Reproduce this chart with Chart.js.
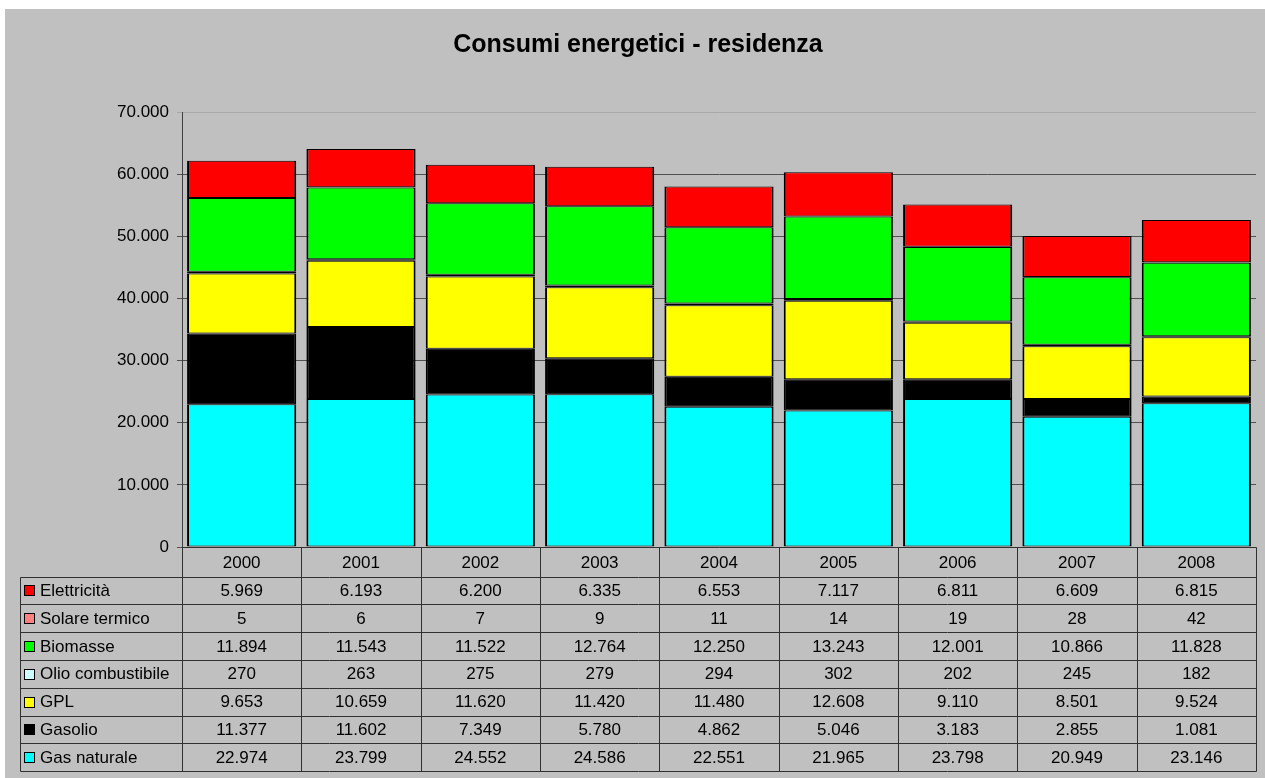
<!DOCTYPE html>
<html><head><meta charset="utf-8">
<script src="https://cdn.jsdelivr.net/npm/chart.js@4/dist/chart.umd.min.js"></script>
<style>html,body{margin:0;padding:0;background:#fff;}canvas{display:block;}</style>
</head><body>
<canvas id="c" width="1265" height="778"></canvas>
<script>
const years = ['2000','2001','2002','2003','2004','2005','2006','2007','2008'];
const gasNaturale = [22974,23799,24552,24586,22551,21965,23798,20949,23146];
const gasolio = [11377,11602,7349,5780,4862,5046,3183,2855,1081];
const gpl = [9653,10659,11620,11420,11480,12608,9110,8501,9524];
const olioCombustibile = [270,263,275,279,294,302,202,245,182];
const biomasse = [11894,11543,11522,12764,12250,13243,12001,10866,11828];
const solareTermico = [5,6,7,9,11,14,19,28,42];
const elettricita = [5969,6193,6200,6335,6553,7117,6811,6609,6815];
const yTicks = [0,10000,20000,30000,40000,50000,60000,70000];

const FONT = "'Liberation Sans', Arial, sans-serif";
const fmt = v => String(v).replace(/\B(?=(\d{3})+(?!\d))/g, '.');

const series = [
  {label:'Gas naturale', data:gasNaturale, color:'#00FFFF'},
  {label:'Gasolio', data:gasolio, color:'#000000'},
  {label:'GPL', data:gpl, color:'#FFFF00'},
  {label:'Olio combustibile', data:olioCombustibile, color:'#CCFFFF'},
  {label:'Biomasse', data:biomasse, color:'#00FF00'},
  {label:'Solare termico', data:solareTermico, color:'#FF8080'},
  {label:'Elettricità', data:elettricita, color:'#FF0000'}
];

const bgPlugin = {
  id:'bg',
  beforeDraw(chart){
    const ctx = chart.ctx, w = chart.width, h = chart.height;
    ctx.save();
    ctx.fillStyle = '#FFFFFF'; ctx.fillRect(0,0,w,h);
    ctx.fillStyle = '#C0C0C0'; ctx.fillRect(5,9,w-5,h-9);
    ctx.restore();
  }
};

const tablePlugin = {
  id:'dataTable',
  afterDraw(chart){
    const ctx = chart.ctx, area = chart.chartArea, xs = chart.scales.x;
    const n = years.length;
    const colW = (area.right - area.left) / n;
    const top = Math.round(area.bottom) + 0.5;
    const headerH = 29, rowH = 27.8, labelLeft = 20.5;
    const rows = chart.data.datasets.slice().reverse();
    const bottom = Math.round(top + headerH + rows.length * rowH) + 0.5;
    ctx.save();
    ctx.strokeStyle = '#303030';
    ctx.lineWidth = 1;
    const line = (x1,y1,x2,y2) => { ctx.beginPath(); ctx.moveTo(x1,y1); ctx.lineTo(x2,y2); ctx.stroke(); };
    const right = Math.round(area.right) + 0.5;
    line(Math.round(area.left)+0.5, top, right, top);
    for (let i = 0; i <= rows.length; i++) {
      const y = Math.round(top + headerH + i * rowH) + 0.5;
      line(labelLeft, y, right, y);
    }
    for (let j = 0; j <= n; j++) {
      const x = Math.round(area.left + j * colW) + 0.5;
      line(x, top, x, bottom);
    }
    line(labelLeft, Math.round(top + headerH) + 0.5, labelLeft, bottom);

    ctx.fillStyle = '#000';
    ctx.font = '17px ' + FONT;
    ctx.textBaseline = 'middle';
    ctx.textAlign = 'center';
    years.forEach((yr, j) => ctx.fillText(yr, xs.getPixelForValue(j), top + headerH / 2 + 1));
    rows.forEach((ds, i) => {
      const yc = top + headerH + i * rowH + rowH / 2 + 1;
      const ky = Math.round(yc - 6);
      ctx.fillStyle = ds.backgroundColor;
      ctx.fillRect(24, ky, 11, 11);
      ctx.strokeStyle = '#000';
      ctx.strokeRect(24.5, ky + 0.5, 10, 10);
      ctx.fillStyle = '#000';
      ctx.textAlign = 'left';
      ctx.fillText(ds.label, 40, yc);
      ctx.textAlign = 'center';
      ds.data.forEach((v, j) => ctx.fillText(fmt(v), xs.getPixelForValue(j), yc));
    });
    ctx.restore();
  }
};

new Chart(document.getElementById('c'), {
  type:'bar',
  data:{
    labels: years,
    datasets: series.map(s => ({
      label: s.label, data: s.data,
      backgroundColor: s.color, borderColor:'#000000',
      borderWidth:{top:1,bottom:1,left:2,right:2}, borderSkipped:false,
      categoryPercentage:1.0, barPercentage:0.915
    }))
  },
  options:{
    responsive:false, animation:false, devicePixelRatio:1,
    layout:{padding:{left:20, right:9, top:0, bottom:231}},
    plugins:{
      legend:{display:false}, tooltip:{enabled:false},
      title:{display:true, text:'Consumi energetici - residenza', color:'#000',
        font:{family:FONT, size:25, weight:'bold'}, padding:{top:30, bottom:52}}
    },
    scales:{
      x:{stacked:true, display:false},
      y:{stacked:true, min:0, max:70000,
        afterFit(scale){ scale.width = 162; },
        afterBuildTicks(scale){ scale.ticks = yTicks.map(v => ({value:v})); },
        ticks:{color:'#000', font:{family:FONT, size:17}, padding:8, callback:v => fmt(v)},
        grid:{color: c => (c.tick && c.tick.value === 70000) ? '#A8A8A8' : '#505050', tickLength:5, drawTicks:true},
        border:{color:'#404040', width:1}
      }
    }
  },
  plugins:[bgPlugin, tablePlugin]
});
</script>
</body></html>
